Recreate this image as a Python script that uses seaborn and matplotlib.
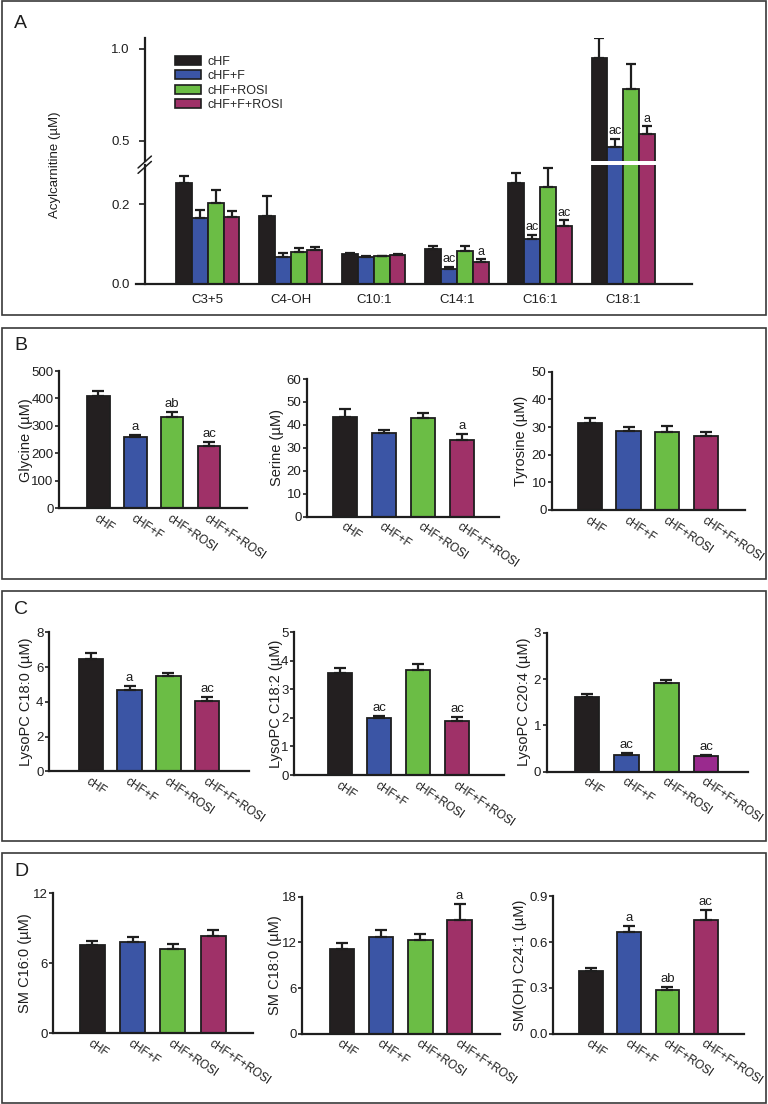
import matplotlib
matplotlib.use('Agg')
import numpy as np
import pandas as pd
import matplotlib.pyplot as plt
import matplotlib.transforms as mtrans
import seaborn as sns
from matplotlib.patches import Rectangle, Patch

# groups and colours
groups = ['cHF', 'cHF+F', 'cHF+ROSI', 'cHF+F+ROSI']
colors = ['#231f20', '#3b55a5', '#6bbd45', '#9f3168']
colors_c204 = ['#231f20', '#3b55a5', '#6bbd45', '#9a2a8e']

# panel A - acylcarnitines (uM)
acyl_names = ['C3+5', 'C4-OH', 'C10:1', 'C14:1', 'C16:1', 'C18:1']
acyl_chf = [0.2525, 0.171, 0.075, 0.0875, 0.2525, 0.951]
acyl_chf_f = [0.164, 0.067, 0.067, 0.037, 0.1125, 0.467]
acyl_chf_rosi = [0.202, 0.081, 0.069, 0.083, 0.2425, 0.780]
acyl_chf_f_rosi = [0.168, 0.085, 0.072, 0.056, 0.144, 0.534]
acyl_chf_sem = [0.017, 0.050, 0.0025, 0.0085, 0.025, 0.107]
acyl_chf_f_sem = [0.021, 0.011, 0.002, 0.006, 0.0105, 0.044]
acyl_chf_rosi_sem = [0.032, 0.010, 0.002, 0.012, 0.0465, 0.139]
acyl_chf_f_rosi_sem = [0.0145, 0.007, 0.003, 0.006, 0.016, 0.046]
acyl_chf_f_sig = ['', '', '', 'ac', 'ac', 'ac']
acyl_chf_f_rosi_sig = ['', '', '', 'a', 'ac', 'a']

# panel B - amino acids
glycine = [408, 258.6, 333.6, 228]
glycine_sem = [19, 7.4, 16, 12]
glycine_sig = ['', 'a', 'ab', 'ac']
serine = [43.6, 36.3, 43.0, 33.6]
serine_sem = [3.3, 1.5, 2.3, 2.3]
serine_sig = ['', '', '', 'a']
tyrosine = [31.5, 28.6, 28.2, 26.6]
tyrosine_sem = [1.9, 1.4, 2.2, 1.7]
tyrosine_sig = ['', '', '', '']

# panel C - lysoPC
lpc_180 = [6.45, 4.68, 5.47, 4.05]
lpc_180_sem = [0.34, 0.21, 0.19, 0.24]
lpc_180_sig = ['', 'a', '', 'ac']
lpc_182 = [3.57, 2.0, 3.67, 1.89]
lpc_182_sem = [0.19, 0.07, 0.21, 0.13]
lpc_182_sig = ['', 'ac', '', 'ac']
lpc_204 = [1.62, 0.36, 1.91, 0.33]
lpc_204_sem = [0.06, 0.035, 0.07, 0.025]
lpc_204_sig = ['', 'ac', '', 'ac']

# panel D - sphingomyelins
sm_160 = [7.55, 7.81, 7.24, 8.35]
sm_160_sem = [0.34, 0.45, 0.37, 0.49]
sm_160_sig = ['', '', '', '']
sm_180 = [11.17, 12.74, 12.27, 14.98]
sm_180_sem = [0.75, 0.88, 0.83, 2.02]
sm_180_sig = ['', '', '', 'a']
smoh_241 = [0.411, 0.665, 0.286, 0.743]
smoh_241_sem = [0.022, 0.039, 0.022, 0.066]
smoh_241_sig = ['', 'a', 'ab', 'ac']

W, H = 768, 1104
sns.set_theme(style='ticks')
plt.rcParams['font.family'] = ['Liberation Sans Narrow', 'Liberation Sans', 'DejaVu Sans']
INK = '#1e1e1e'

fig = plt.figure(figsize=(W / 100, H / 100), dpi=100)


def px_axes(left, top, right, bottom):
    return fig.add_axes([left / W, 1 - bottom / H, (right - left) / W, (bottom - top) / H])


# panel frames and letters
for (top, bottom, letter, ly) in [(1, 315, 'A', 23), (328, 579, 'B', 346),
                                  (591, 841, 'C', 610), (853, 1103, 'D', 872)]:
    fig.patches.append(Rectangle((2 / W, 1 - bottom / H), 764 / W, (bottom - top) / H,
                                 transform=fig.transFigure, fill=False,
                                 edgecolor='#3a3a3a', linewidth=1.2))
    fig.text(14 / W, 1 - ly / H, letter, fontsize=14, va='center', ha='left',
             family=['Liberation Sans Narrow', 'Liberation Sans'], color=INK)


def small_panel(box, values, errors, sigs, ylabel, yticks, xlim, label_x, palette=colors):
    ax = px_axes(*box)
    df = pd.DataFrame({'group': groups, 'value': values})
    sns.barplot(data=df, x='group', y='value', hue='group', palette=palette, legend=False,
                width=0.62, edgecolor=INK, linewidth=1.3, errorbar=None, saturation=1, ax=ax)
    x = np.arange(len(groups))
    ax.errorbar(x, values, yerr=[np.zeros(len(values)), errors], fmt='none', ecolor=INK,
                elinewidth=1.6, capsize=4.5, capthick=1.6, zorder=1)
    for xi, v, e, s in zip(x, values, errors, sigs):
        if s:
            ax.annotate(s, (xi, v + e), xytext=(0, 1.5), textcoords='offset points',
                        ha='center', va='bottom', fontsize=9.5, color=INK)
    ax.set_xlim(*xlim)
    ax.set_ylim(yticks[0], yticks[-1])
    ax.set_yticks(yticks)
    ax.set_xlabel('')
    ax.set_ylabel(ylabel, fontsize=10.5, color=INK)
    axw = box[2] - box[0]
    ax.yaxis.set_label_coords(-(box[0] - label_x) / axw, 0.5)
    ax.set_xticks(x)
    ax.set_xticklabels(groups, rotation=-34, ha='left', va='top', rotation_mode='anchor')
    shift = mtrans.ScaledTranslation(-0.12, -0.02, fig.dpi_scale_trans)
    for lab in ax.get_xticklabels():
        lab.set_transform(lab.get_transform() + shift)
    sns.despine(ax=ax)
    for s in ['left', 'bottom']:
        ax.spines[s].set_linewidth(1.6)
        ax.spines[s].set_color(INK)
    ax.tick_params(axis='y', direction='out', length=3, width=1.2, pad=1, labelsize=9.5,
                   colors=INK)
    ax.tick_params(axis='x', length=0, pad=3, labelsize=8.5, colors=INK)
    return ax


# panel B
small_panel((59, 371, 247, 508.3), glycine, glycine_sem, glycine_sig, 'Glycine (µM)',
            [0, 100, 200, 300, 400, 500], (-1.06, 4.03), 33)
small_panel((307, 379, 499, 516.7), serine, serine_sem, serine_sig, 'Serine (µM)',
            [0, 10, 20, 30, 40, 50, 60], (-0.98, 3.96), 284)
small_panel((552, 371.7, 745, 510), tyrosine, tyrosine_sem, tyrosine_sig, 'Tyrosine (µM)',
            [0, 10, 20, 30, 40, 50], (-0.97, 4.0), 528)

# panel C
small_panel((49, 632.3, 249, 771.3), lpc_180, lpc_180_sem, lpc_180_sig, 'LysoPC C18:0 (µM)',
            [0, 2, 4, 6, 8], (-1.07, 4.07), 33)
small_panel((294, 632.3, 503.6, 775), lpc_182, lpc_182_sem, lpc_182_sig, 'LysoPC C18:2 (µM)',
            [0, 1, 2, 3, 4, 5], (-1.18, 4.19), 283)
small_panel((546.7, 632.7, 748, 771.7), lpc_204, lpc_204_sem, lpc_204_sig, 'LysoPC C20:4 (µM)',
            [0, 1, 2, 3], (-1.02, 4.06), 531, palette=colors_c204)

# panel D
small_panel((53, 893, 253.5, 1033.3), sm_160, sm_160_sem, sm_160_sig, 'SM C16:0 (µM)',
            [0, 6, 12], (-0.98, 4.0), 32)
small_panel((302, 896.7, 500, 1033.7), sm_180, sm_180_sem, sm_180_sig, 'SM C18:0 (µM)',
            [0, 6, 12, 18], (-1.02, 4.03), 282)
ax_d3 = small_panel((553, 896.3, 744, 1033.7), smoh_241, smoh_241_sem, smoh_241_sig,
                    'SM(OH) C24:1 (µM)', [0.0, 0.3, 0.6, 0.9], (-0.99, 4.0), 527)
ax_d3.set_yticklabels(['0.0', '0.3', '0.6', '0.9'])

# panel A - broken y axis
acyl_means = [acyl_chf, acyl_chf_f, acyl_chf_rosi, acyl_chf_f_rosi]
acyl_sems = [acyl_chf_sem, acyl_chf_f_sem, acyl_chf_rosi_sem, acyl_chf_f_rosi_sem]
acyl_sigs = [[''] * 6, acyl_chf_f_sig, [''] * 6, acyl_chf_f_rosi_sig]
df_a = pd.DataFrame({
    'metabolite': acyl_names * 4,
    'group': np.repeat(groups, len(acyl_names)),
    'value': np.concatenate(acyl_means),
})

ax_up = px_axes(136, 38, 692, 161)
ax_lo = px_axes(136, 165, 692, 284)
lo_top = 0.2975
afont = ['Liberation Sans', 'DejaVu Sans']
for ax in (ax_up, ax_lo):
    sns.barplot(data=df_a, x='metabolite', y='value', hue='group', hue_order=groups,
                palette=colors, width=0.76, edgecolor=INK, linewidth=1.3, errorbar=None,
                saturation=1, legend=False, ax=ax)
    for cont, means, sems, sigs in zip(ax.containers, acyl_means, acyl_sems, acyl_sigs):
        xs = [b.get_x() + b.get_width() / 2 for b in cont]
        ax.errorbar(xs, means, yerr=[np.zeros(len(means)), sems], fmt='none', ecolor=INK,
                    elinewidth=1.6, capsize=3.5, capthick=1.6, zorder=1)
        for xi, v, e, s in zip(xs, means, sems, sigs):
            in_up = (v + e) > lo_top
            if s and (in_up == (ax is ax_up)):
                ax.annotate(s, (xi, v + e), xytext=(0, 1), textcoords='offset points',
                            ha='center', va='bottom', fontsize=9, color=INK, family=afont)
    ax.set_xlim(-0.865, 5.83)
    ax.set_xlabel('')
    ax.set_ylabel('')
    ax.spines['right'].set_visible(False)
    ax.spines['top'].set_visible(False)
    ax.spines['left'].set_position(('data', -0.76))
    for s in ['left', 'bottom']:
        ax.spines[s].set_linewidth(1.6)
        ax.spines[s].set_color(INK)
    ax.tick_params(axis='y', direction='out', length=4, width=1.2, pad=7, labelsize=9.5,
                   colors=INK)
    for lab in ax.get_yticklabels():
        lab.set_family(afont)

ax_up.set_ylim(0.389, 1.06)
ax_up.set_yticks([0.5, 1.0])
ax_up.set_yticklabels(['0.5', '1.0'], family=afont)
ax_up.spines['bottom'].set_visible(False)
ax_up.set_xticks([])
ax_lo.set_ylim(0, lo_top)
ax_lo.set_yticks([0.0, 0.2])
ax_lo.set_yticklabels(['0.0', '0.2'], family=afont)
ax_lo.tick_params(axis='x', length=0, pad=7, labelsize=9.5, colors=INK)
for lab in ax_lo.get_xticklabels():
    lab.set_family(afont)

# break marks on the y axis
xb = (0.105 / 6.695)
for dy in (0.0, 0.045):
    ax_lo.plot([xb - 0.012, xb + 0.012], [0.93 + dy, 1.03 + dy], transform=ax_lo.transAxes,
               color=INK, linewidth=1.1, clip_on=False)

ax_up.legend([Patch(facecolor=c, edgecolor=INK, linewidth=1.2) for c in colors], groups,
             loc='upper left', bbox_to_anchor=((175 - 136) / 556, (161 - 56) / 123),
             frameon=False, handlelength=2.1, handleheight=0.75, handletextpad=0.5,
             labelspacing=0.18, borderpad=0, borderaxespad=0,
             prop={'family': afont, 'size': 9})

fig.text(55 / W, 1 - 165 / H, 'Acylcarnitine (µM)', rotation=90, ha='center', va='center',
         fontsize=9.5, family=afont, color=INK)

fig.savefig('out.png', dpi=100)
